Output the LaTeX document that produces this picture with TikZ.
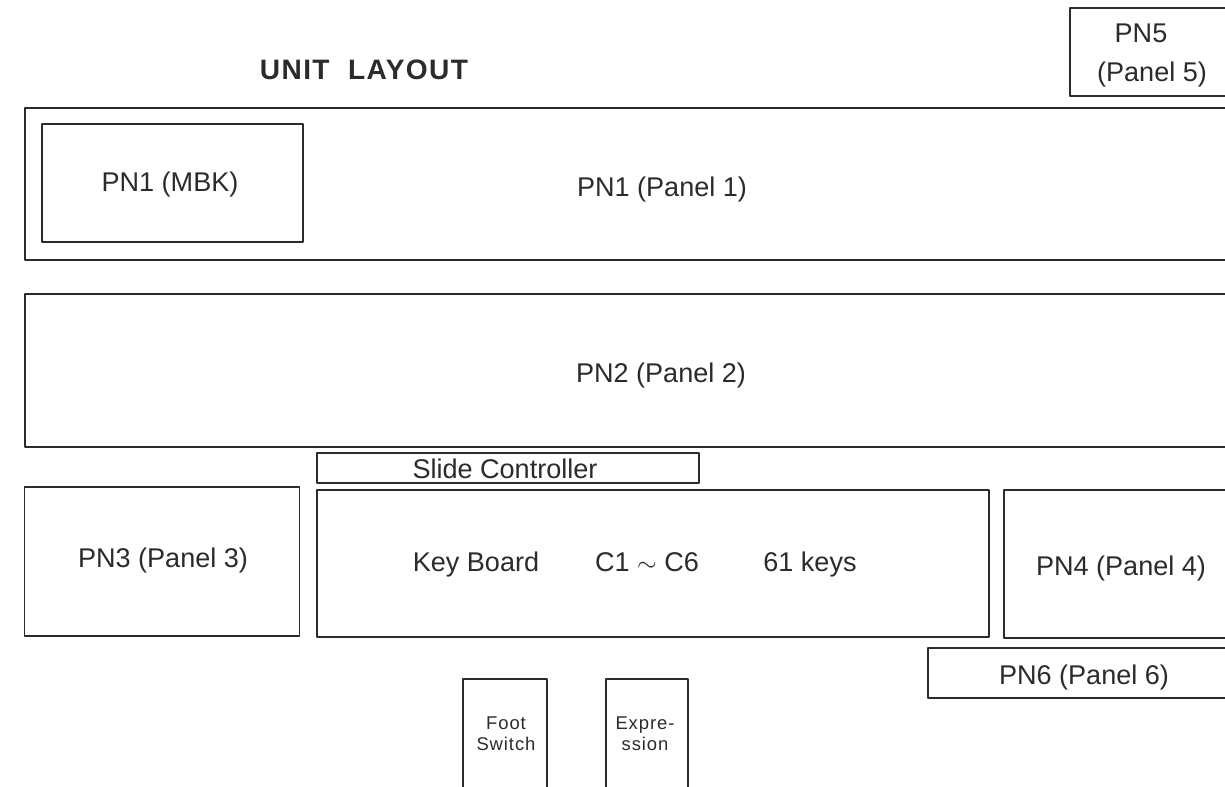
\documentclass[tikz,border=0pt]{standalone}
\usepackage{fontspec}
\setmainfont{Liberation Sans}
\usetikzlibrary{positioning}
\newcommand{\panelfont}{\fontsize{15.4}{22}\selectfont}
\newcommand{\titlefont}{\fontsize{16}{20}\selectfont\bfseries\addfontfeatures{LetterSpace=5}}
\newcommand{\pedalfont}{\fontsize{10.5}{11.9}\selectfont\addfontfeatures{LetterSpace=5}}
\definecolor{ink}{HTML}{2B2B2B}
\tikzset{
  panel/.style={draw=ink, line width=1pt, inner sep=0pt},
  caption/.style={text=ink, inner sep=0pt, anchor=base, font=\panelfont},
  pedal/.style={caption, font=\pedalfont, align=center}
}
\begin{document}
\begin{tikzpicture}[x=0.02cm, y=-0.02cm, line join=round, line cap=round]
	\useasboundingbox (0,0) rectangle (1225,787);
	\node[caption, font=\titlefont] (title) at (364,80) {UNIT\ \ LAYOUT};
	% boxes
	\node[panel, minimum width=3.24cm, minimum height=1.76cm] (pn5) at (1151,52) {};
	\node[panel, minimum width=25.6cm, minimum height=3.04cm] (pn1) at (665,184) {};
	\node[panel, minimum width=5.22cm, minimum height=2.36cm] (mbk) at (172.5,183) {};
	\node[panel, minimum width=25.6cm, minimum height=3.06cm] (pn2) at (665,370.5) {};
	\node[panel, minimum width=7.64cm, minimum height=0.6cm] (slide) at (508,468) {};
	\node[panel, minimum width=5.5cm, minimum height=2.98cm] (pn3) at (162,561.5) {};
	\node[panel, minimum width=13.44cm, minimum height=2.94cm] (kbd) at (653,563.5) {};
	\node[panel, minimum width=4.56cm, minimum height=2.96cm] (pn4) at (1118,564) {};
	\node[panel, minimum width=6.72cm, minimum height=1.0cm] (pn6) at (1096,673) {};
	\node[panel, minimum width=1.68cm, minimum height=2.44cm] (foot) at (505,740) {};
	\node[panel, minimum width=1.64cm, minimum height=2.44cm] (expr) at (647,740) {};
	% texts
	\foreach \n/\x/\y/\t in {pn5a/1141/43/PN5, pn5b/1152/82/(Panel 5),
		mbkt/170/192/PN1 (MBK), pn1t/662/197/PN1 (Panel 1), pn2t/661/383/PN2 (Panel 2),
		slidet/505/479/Slide Controller, pn3t/163/567/PN3 (Panel 3),
		kbda/476/571/Key Board, kbdb/647/571/C1 $\sim$ C6, kbdc/810/571/61 keys,
		pn4t/1121/575/PN4 (Panel 4), pn6t/1084/684/PN6 (Panel 6)}
		\node[caption] (\n) at (\x,\y) {\t};
	\node[pedal] (foott) at (506,750) {Foot\\Switch};
	\node[pedal] (exprt) at (645,750) {Expre-\\ssion};
\end{tikzpicture}
\end{document}
